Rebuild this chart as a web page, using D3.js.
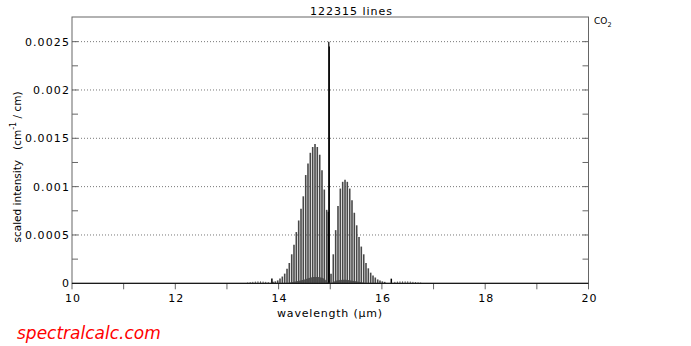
<!DOCTYPE html>
<html lang="en">

<head>
    <meta charset="utf-8">
    <title>CO2 line intensities</title>
    <script src="https://d3js.org/d3.v7.min.js"></script>
    <style>
        body { margin: 0; background: #fff; }
        text { font-family: "DejaVu Sans", sans-serif; }
    </style>
</head>

<body>
<div id="my_dataviz"></div>

<script>
    // R branch lines (short wavelength lobe), wavelength in um / intensity
    var rWave = [13.892, 13.936, 13.983, 14.027, 14.072, 14.118, 14.163, 14.207, 14.254, 14.298, 14.343, 14.389,
        14.434, 14.478, 14.525, 14.569, 14.614, 14.660, 14.705, 14.749, 14.796, 14.840, 14.885, 14.931]
    var rInt = [0.000015, 0.00002, 0.00003, 0.00005, 0.00007, 0.00010, 0.00015, 0.00021, 0.00030, 0.00040, 0.00053, 0.00065,
        0.00077, 0.00090, 0.00112, 0.00124, 0.00135, 0.00141, 0.00144, 0.00141, 0.00133, 0.00117, 0.00097, 0.00076]

    // P branch lines (long wavelength lobe)
    var pWave = [15.015, 15.059, 15.105, 15.150, 15.195, 15.241, 15.286, 15.330, 15.377, 15.421, 15.466, 15.512,
        15.557, 15.601, 15.648, 15.692, 15.737, 15.783, 15.828, 15.872, 15.919, 15.963, 16.008, 16.054]
    var pInt = [0.00010, 0.00030, 0.00055, 0.00080, 0.00098, 0.00105, 0.00107, 0.00105, 0.00098, 0.00086, 0.00073, 0.00060,
        0.00048, 0.00038, 0.00030, 0.00021, 0.000155, 0.00011, 0.00008, 0.00006, 0.00004, 0.00003, 0.00002, 0.000015]

    // Q branch spike
    var qWave = [14.962, 14.972, 14.982]
    var qInt = [0.00074, 0.0025, 0.00245]

    // small hot band Q branches
    var hotQWave = [13.870, 16.182]
    var hotQInt = [0.00005, 0.000048]

    // weak wing lines
    var wingWave = [13.40, 13.45, 13.50, 13.55, 13.60, 13.65, 13.70, 13.75, 13.80,
        16.25, 16.30, 16.35, 16.40, 16.45, 16.50, 16.55, 16.60, 16.65, 16.70, 16.75]
    var wingInt = [0.000008, 0.000012, 0.000015, 0.000018, 0.00002, 0.00002, 0.000018, 0.000015, 0.000012,
        0.000015, 0.000018, 0.00002, 0.00002, 0.00002, 0.00002, 0.000018, 0.000015, 0.000012, 0.00001, 0.000008]

    // dense hot band lines, drawn as dark humps under the lobes
    var hotLWave = [14.15, 14.35, 14.50, 14.62, 14.72, 14.82, 14.90, 14.96]
    var hotLInt = [0, 0.00002, 0.00004, 0.00006, 0.000065, 0.00006, 0.00004, 0]
    var hotRWave = [15.02, 15.12, 15.25, 15.35, 15.50, 15.70]
    var hotRInt = [0, 0.00003, 0.000038, 0.000035, 0.00002, 0]

    // axis ticks
    var xTicks = [10, 11, 12, 13, 14, 15, 16, 17, 18, 19, 20]
    var xLabels = [10, 12, 14, 16, 18, 20]
    var yTicks = [0.00025, 0.0005, 0.00075, 0.001, 0.00125, 0.0015, 0.00175, 0.002, 0.00225, 0.0025]
    var yLabels = [0, 0.0005, 0.001, 0.0015, 0.002, 0.0025]
    var yLabelText = ["0", "0.0005", "0.001", "0.0015", "0.002", "0.0025"]

    var W = 691, H = 346
    var pLeft = 72, pRight = 588.5, pTop = 17, pBottom = 283.3

    var svg = d3.select("#my_dataviz")
        .append("svg")
        .attr("width", W)
        .attr("height", H)

    var x = d3.scaleLinear().domain([10, 20]).range([pLeft, pRight])
    var y = d3.scaleLinear().domain([0, 0.002755]).range([pBottom, pTop])

    // dotted grid lines
    svg.selectAll(".grid")
        .data(yLabels.slice(1))
        .enter()
        .append("line")
        .attr("x1", pLeft).attr("x2", pRight)
        .attr("y1", d => y(d)).attr("y2", d => y(d))
        .attr("stroke", "#777")
        .attr("stroke-width", 1)
        .attr("stroke-dasharray", "1,2")

    // ticks on left/right (inward) and bottom (outward)
    svg.selectAll(".ytickL")
        .data(yTicks)
        .enter()
        .append("line")
        .attr("x1", pLeft).attr("x2", pLeft + 6)
        .attr("y1", d => y(d)).attr("y2", d => y(d))
        .attr("stroke", "#666")
    svg.selectAll(".ytickR")
        .data(yTicks)
        .enter()
        .append("line")
        .attr("x1", pRight - 6).attr("x2", pRight)
        .attr("y1", d => y(d)).attr("y2", d => y(d))
        .attr("stroke", "#666")
    svg.selectAll(".xtick")
        .data(xTicks)
        .enter()
        .append("line")
        .attr("x1", d => x(d)).attr("x2", d => x(d))
        .attr("y1", pBottom).attr("y2", pBottom + 6)
        .attr("stroke", "#666")

    // hot band humps
    var area = d3.area()
        .x(d => x(d[0]))
        .y0(y(0))
        .y1(d => y(d[1]))
        .curve(d3.curveMonotoneX)
    svg.append("path")
        .datum(d3.zip(hotLWave, hotLInt))
        .attr("d", area)
        .attr("fill", "#222")
        .attr("opacity", 0.75)
    svg.append("path")
        .datum(d3.zip(hotRWave, hotRInt))
        .attr("d", area)
        .attr("fill", "#222")
        .attr("opacity", 0.75)

    // stick spectrum
    function sticks(wave, inten, color, width) {
        svg.append("g")
            .selectAll("line")
            .data(d3.zip(wave, inten))
            .enter()
            .append("line")
            .attr("x1", d => x(d[0])).attr("x2", d => x(d[0]))
            .attr("y1", y(0)).attr("y2", d => y(d[1]))
            .attr("stroke", color)
            .attr("stroke-width", width)
    }
    sticks(wingWave, wingInt, "#555", 1)
    sticks(rWave, rInt, "#484848", 1.6)
    sticks(pWave, pInt, "#484848", 1.6)
    sticks(hotQWave, hotQInt, "#000", 1.5)
    sticks(qWave, qInt, "#000", 1.2)

    // frame
    svg.append("rect")
        .attr("x", pLeft).attr("y", pTop)
        .attr("width", pRight - pLeft).attr("height", pBottom - pTop)
        .attr("fill", "none")
        .attr("stroke", "#666")
    svg.append("line")
        .attr("x1", pLeft).attr("x2", pRight)
        .attr("y1", pBottom).attr("y2", pBottom)
        .attr("stroke", "#000")

    // tick labels
    svg.selectAll(".ylab")
        .data(yLabels)
        .enter()
        .append("text")
        .attr("x", pLeft - 2)
        .attr("y", d => y(d) + 4)
        .attr("text-anchor", "end")
        .attr("font-size", 11)
        .attr("letter-spacing", 1.1)
        .text((d, i) => yLabelText[i])
    svg.selectAll(".xlab")
        .data(xLabels)
        .enter()
        .append("text")
        .attr("x", d => x(d) + 1)
        .attr("y", 302)
        .attr("text-anchor", "middle")
        .attr("font-size", 11)
        .attr("letter-spacing", 1)
        .text(d => d)

    // titles
    svg.append("text")
        .attr("x", 351.5).attr("y", 15)
        .attr("text-anchor", "middle")
        .attr("font-size", 11)
        .attr("letter-spacing", 1)
        .text("122315 lines")

    var co2 = svg.append("text")
        .attr("x", 594).attr("y", 24)
        .attr("font-size", 9)
    co2.append("tspan").text("CO")
    co2.append("tspan").attr("font-size", 6.5).attr("dy", 3).text("2")

    svg.append("text")
        .attr("x", 330).attr("y", 317)
        .attr("text-anchor", "middle")
        .attr("font-size", 11)
        .attr("letter-spacing", 0.8)
        .text("wavelength (\u00b5m)")

    var ylab = svg.append("text")
        .attr("transform", "translate(21,167) rotate(-90)")
        .attr("text-anchor", "middle")
        .attr("font-size", 10.5)
    ylab.append("tspan").text("scaled intensity")
    ylab.append("tspan").attr("dx", 10).text("(cm")
    ylab.append("tspan").attr("font-size", 8).attr("dy", -5).text("-1")
    ylab.append("tspan").attr("dy", 5).text(" / cm)")

    svg.append("text")
        .attr("x", 17).attr("y", 339)
        .attr("font-size", 17)
        .attr("font-style", "italic")
        .attr("fill", "#ff0000")
        .text("spectralcalc.com")
</script>
</body>

</html>
